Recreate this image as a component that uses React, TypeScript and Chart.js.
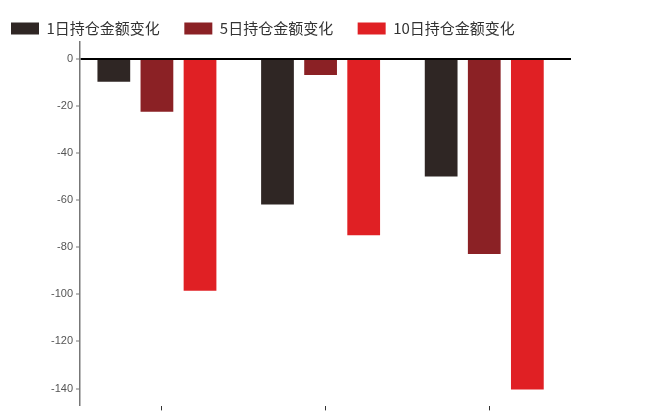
import React, { useEffect, useRef } from "react";
import { Chart, registerables } from "chart.js";

Chart.register(...registerables);

const categories = ["A", "B", "C"];
const seriesNames = ["1日持仓金额变化", "5日持仓金额变化", "10日持仓金额变化"];
const change1d = [-9.7, -61.8, -49.9];
const change5d = [-22.4, -6.8, -82.9];
const change10d = [-98.5, -74.9, -140.4];
const colors = ["#2f2624", "#8b2125", "#e02024"];

const legendTrim = {
  id: "legendTrim",
  beforeLayout(chart: any) {
    const lg = chart.legend;
    if (lg && !lg._trimmed) {
      const orig = lg.fit.bind(lg);
      lg.fit = function () {
        orig();
        this.height = Math.max(0, this.height - 4);
      };
      lg._trimmed = true;
    }
  },
};

export default function App() {
  const ref = useRef<HTMLCanvasElement>(null);
  useEffect(() => {
    if (!ref.current) return;
    const chart = new Chart(ref.current, {
      type: "bar",
      data: {
        labels: categories,
        datasets: [change1d, change5d, change10d].map((d, i) => ({
          label: seriesNames[i],
          data: d.map((v, j) => ({ x: j, y: v })),
          xAxisID: "xb",
          backgroundColor: colors[i],
          borderWidth: 0,
          barPercentage: 0.76,
          categoryPercentage: 0.79,
        })),
      },
      plugins: [legendTrim],
      options: {
        responsive: false,
        animation: false,
        layout: { padding: { left: -13.5, right: 85, top: -3.5, bottom: 4 } },
        plugins: {
          tooltip: { enabled: false },
          legend: {
            position: "top",
            align: "start",
            labels: {
              boxWidth: 28,
              boxHeight: 12,
              padding: 24.5,
              color: "#333",
              font: { size: 15, family: "'Noto Sans CJK SC'" },
            },
          },
        },
        scales: {
          x: {
            type: "category",
            offset: true,
            grid: {
              display: true,
              offset: false,
              drawOnChartArea: false,
              drawTicks: true,
              tickLength: 4,
              tickColor: "#333",
            },
            border: { display: false },
            ticks: { display: false },
          },
          xb: {
            type: "linear",
            display: false,
            offset: false,
            min: -0.47,
            max: 2.53,
            grid: { offset: false },
            ticks: { stepSize: 1, includeBounds: false },
          },
          y: {
            min: -147.6,
            max: 7.2,
            afterFit: (axis: any) => {
              axis.width = 93.5;
            },
            border: { display: true, color: "#777", width: 1.5 },
            grid: {
              color: (ctx: any) => (ctx.tick && ctx.tick.value === 0 ? "#000" : "rgba(0,0,0,0)"),
              lineWidth: (ctx: any) => (ctx.tick && ctx.tick.value === 0 ? 2 : 0),
              tickColor: "#777",
              tickLength: 4,
              tickWidth: 1,
            },
            ticks: {
              stepSize: 20,
              includeBounds: false,
              padding: 3,
              color: "#555",
              font: { size: 11, family: "'Liberation Sans', Arial, sans-serif" },
            },
          },
        },
      },
    });
    return () => chart.destroy();
  }, []);
  return (
    <div style={{ position: "absolute", left: 0, top: 0, width: 656, height: 416, background: "#fff" }}>
      <canvas ref={ref} width={656} height={416} />
    </div>
  );
}
